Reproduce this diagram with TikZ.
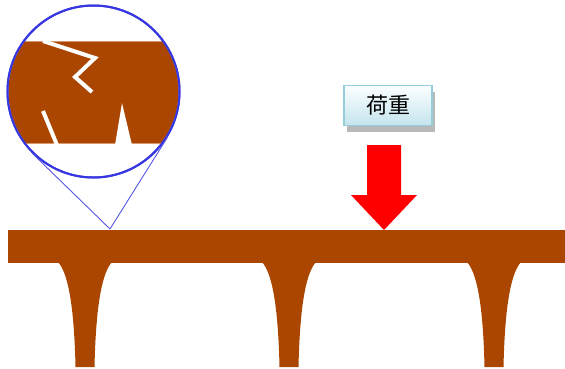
\documentclass[tikz,border=0pt]{standalone}
\usepackage{fontspec}
\newfontfamily\cjkfont{Noto Sans CJK SC}
\usetikzlibrary{calc,shadows}
\definecolor{rust}{RGB}{170,70,0}
\definecolor{rustedge}{RGB}{214,150,110}
\definecolor{lensblue}{RGB}{55,55,225}
\definecolor{tagtop}{RGB}{252,254,255}
\definecolor{tagbot}{RGB}{196,228,238}
\definecolor{tagline}{RGB}{150,205,218}
\tikzset{
  girder/.style={fill=rust, draw=none},
  crack/.style={draw=white, line width=4pt, line cap=butt, line join=miter},
  lensring/.style={circle, draw=lensblue, line width=2pt, minimum size=172pt, inner sep=0pt},
  lensray/.style={draw=lensblue!85, line width=0.9pt},
  loadtag/.style={rectangle, draw=tagline, line width=1.6pt, top color=tagtop, bottom color=tagbot,
    minimum width=88pt, minimum height=40pt, inner sep=0pt,
    font=\cjkfont\fontsize{22}{22}\selectfont,
    general shadow={fill=gray!55, shadow xshift=3pt, shadow yshift=-6pt}},
  loadarrow/.style={fill=red, draw=none}
}
\begin{document}
\begin{tikzpicture}[x=1pt,y=-1pt]
\useasboundingbox (0,0) rectangle (565,368);

% deck beam and its three tapered piers
\node (beam) [girder, rectangle, minimum width=557pt, minimum height=33pt, inner sep=0pt, anchor=north west] at (8,230) {};
\foreach \c in {85,289,494}{
  \fill[rust] (\c-27,262) .. controls (\c-18,272) and (\c-11,300) .. (\c-9.5,367)
     -- (\c+9.5,367) .. controls (\c+11,300) and (\c+18,272) .. (\c+27,262) -- cycle;
}

% magnified view of the cracked section
\node (lens) [lensring] at (93.5,91.5) {};
\begin{scope}
  \clip (lens.center) circle (85pt);
  \fill[rust] (0,41) rectangle (190,144);
  \draw[rustedge, line width=1.5pt] (0,41.5) -- (190,41.5) (0,143.5) -- (190,143.5);
  \draw[crack] (43,41) -- (95,58) -- (75,77) -- (92,92);
  \draw[crack] (43,111) -- (57,145);
  \fill[white] (115,145) -- (122,103) -- (132,145) -- cycle;
\end{scope}
\node [lensring] at (lens.center) {};

\coordinate (spot) at (110,229);
\draw[lensray] (spot) -- (tangent cs:node=lens,point={(spot)},solution=1);
\draw[lensray] (spot) -- (tangent cs:node=lens,point={(spot)},solution=2);

% applied load
\node (tag) [loadtag] at (388,105.5) {荷重};
\coordinate (load) at (384,230);
\fill[loadarrow] (367,145) -- (401,145) -- (401,195) -- (417,195) -- (load) -- (351,195) -- (367,195) -- cycle;
\end{tikzpicture}
\end{document}
